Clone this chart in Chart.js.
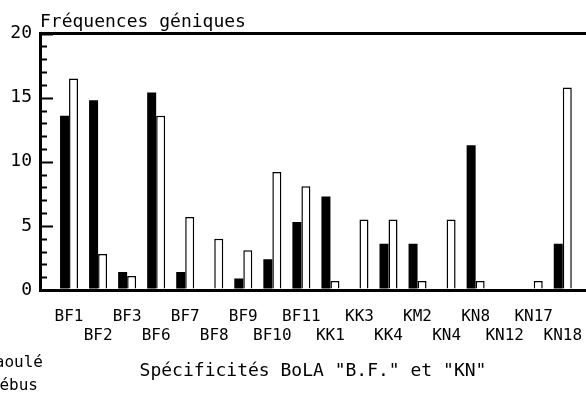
<!DOCTYPE html>
<html>
<head>
<meta charset="utf-8">
<script src="https://cdn.jsdelivr.net/npm/chart.js@4/dist/chart.umd.min.js"></script>
<style>
  html, body { margin: 0; padding: 0; background: #fff; overflow: hidden; }
  #wrap { width: 586px; height: 407px; position: relative; }
</style>
</head>
<body>
<div id="wrap"><canvas id="chart"></canvas></div>
<script>
const categories = ['BF1', 'BF2', 'BF3', 'BF6', 'BF7', 'BF8', 'BF9', 'BF10', 'BF11',
  'KK1', 'KK3', 'KK4', 'KM2', 'KN4', 'KN8', 'KN12', 'KN17', 'KN18'];
const baoule = [13.6, 14.8, 1.4, 15.4, 1.4, 0, 0.9, 2.4, 5.3, 7.3, 0, 3.6, 3.6, 0, 11.3, 0, 0, 3.6];
const zebus = [16.5, 2.8, 1.1, 13.6, 5.7, 4.0, 3.1, 9.2, 8.1, 0.7, 5.5, 5.5, 0.7, 5.5, 0.7, 0, 0.7, 15.8];
const yTicks = [0, 5, 10, 15, 20];

const FONT = "'DejaVu Sans Mono', 'Liberation Mono', monospace";

// small inward ticks on the left axis, every unit, longer on the labelled ones
const innerTicks = {
  id: 'innerTicks',
  afterDraw(chart) {
    const ctx = chart.ctx;
    const y = chart.scales.y;
    const left = chart.chartArea.left;
    ctx.save();
    ctx.strokeStyle = '#000';
    ctx.lineWidth = 2;
    for (let v = y.min; v <= y.max; v++) {
      const py = Math.round(y.getPixelForValue(v)) + 0.5;
      const len = yTicks.includes(v) ? 13 : 7;
      ctx.beginPath();
      ctx.moveTo(left, py);
      ctx.lineTo(left + len, py);
      ctx.stroke();
    }
    ctx.restore();
  }
};

// legend names, cut by the left edge as in the scan
const sideLabels = {
  id: 'sideLabels',
  afterDraw(chart) {
    const ctx = chart.ctx;
    ctx.save();
    ctx.font = '16px ' + FONT;
    ctx.fillStyle = '#000';
    ctx.textAlign = 'right';
    ctx.textBaseline = 'alphabetic';
    ctx.fillText(chart.data.datasets[0].label, 43, 367);
    ctx.fillText(chart.data.datasets[1].label, 38, 390);
    ctx.restore();
  }
};

new Chart(document.getElementById('chart'), {
  type: 'bar',
  data: {
    datasets: [
      {
        label: 'Baoulé',
        data: baoule.map((v, i) => ({ x: i, y: v })),
        backgroundColor: '#000',
        borderWidth: 0,
        barPercentage: 1,
        categoryPercentage: 0.62
      },
      {
        label: 'Zébus',
        data: zebus.map((v, i) => ({ x: i, y: v })),
        backgroundColor: '#fff',
        borderColor: '#000',
        borderWidth: 1.5,
        barPercentage: 1,
        categoryPercentage: 0.62
      }
    ]
  },
  options: {
    responsive: true,
    maintainAspectRatio: false,
    animation: false,
    layout: { padding: 0 },
    plugins: {
      legend: { display: false },
      tooltip: { enabled: false },
      title: {
        display: true,
        text: 'Fréquences géniques',
        align: 'start',
        fullSize: false,
        color: '#000',
        font: { family: FONT, size: 18, weight: 'normal', lineHeight: 1.2 },
        padding: { top: 12, bottom: 0 }
      }
    },
    scales: {
      x: {
        type: 'linear',
        offset: false,
        min: -1,
        max: 17.8,
        afterBuildTicks(scale) {
          scale.ticks = categories.map((_, i) => ({ value: i }));
        },
        afterFit(scale) {
          scale.height = 117;
          scale.paddingLeft = 0;
          scale.paddingRight = 0;
        },
        grid: { display: false, offset: false },
        border: { display: true, color: '#000', width: 3 },
        ticks: {
          autoSkip: false,
          maxRotation: 0,
          padding: 9,
          color: '#000',
          font: { family: FONT, size: 16, lineHeight: 1.2 },
          callback: (v) => {
            const name = categories[v];
            if (name === undefined) return '';
            return v % 2 ? ['', name] : name;
          }
        },
        title: {
          display: true,
          text: 'Spécificités BoLA "B.F." et "KN"',
          color: '#000',
          font: { family: FONT, size: 18, lineHeight: 1.2 },
          padding: { top: 0, bottom: 25 }
        }
      },
      y: {
        min: 0,
        max: 20,
        afterBuildTicks(scale) {
          scale.ticks = yTicks.map(v => ({ value: v }));
        },
        afterFit(scale) { scale.width = 40; },
        grid: {
          drawTicks: false,
          color: (c) => (c.tick && c.tick.value === 20 ? '#000' : 'rgba(0,0,0,0)'),
          lineWidth: 3
        },
        border: { display: true, color: '#000', width: 3 },
        ticks: {
          padding: 8,
          color: '#000',
          font: { family: FONT, size: 18 }
        }
      }
    }
  },
  plugins: [innerTicks, sideLabels]
});
</script>
</body>
</html>
